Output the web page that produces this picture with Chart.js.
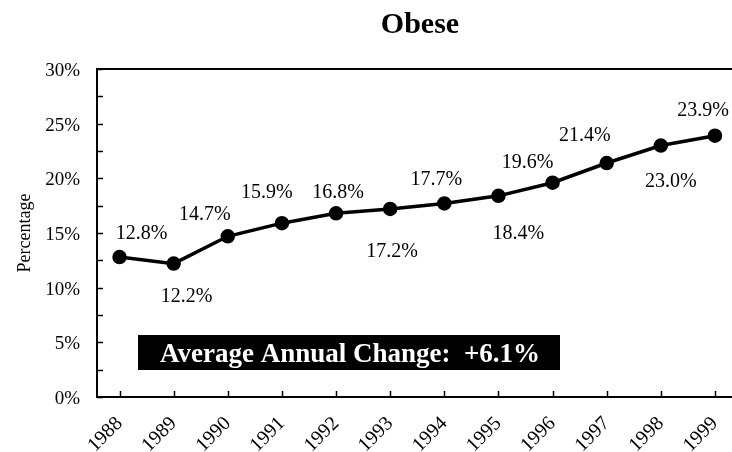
<!DOCTYPE html>
<html>
<head>
<meta charset="utf-8">
<script src="https://cdn.jsdelivr.net/npm/chart.js@4/dist/chart.umd.min.js"></script>
<style>
  html, body { margin: 0; padding: 0; background: #ffffff; }
  #c { display: block; }
</style>
</head>
<body>
<canvas id="c" width="732" height="452"></canvas>
<script>
// ---- data ----
const categories = ['1988','1989','1990','1991','1992','1993','1994','1995','1996','1997','1998','1999'];
const obese = [12.8, 12.2, 14.7, 15.9, 16.8, 17.2, 17.7, 18.4, 19.6, 21.4, 23.0, 23.9];
const yTickValues = [0, 5, 10, 15, 20, 25, 30];
const chartTitle = 'Obese';
const yAxisTitle = 'Percentage';
const noteText = 'Average Annual Change:  +6.1%';

// ---- layout / style (not data) ----
const years = categories.map(Number);
const labelOffsets = [[22,-25],[13,32],[-23,-23],[-15,-32],[2,-22],[2,41],[-8,-25],[20,37],[-25,-21],[-22,-29],[10,35],[-12,-26]];
const SERIF = '"Liberation Serif", "Times New Roman", serif';

const decor = {
  id: 'decor',
  afterDraw(chart) {
    const ctx = chart.ctx;
    const a = chart.chartArea;
    const xs = chart.scales.x, ys = chart.scales.y;
    ctx.save();
    // top frame line
    ctx.strokeStyle = '#000';
    ctx.lineWidth = 2;
    ctx.beginPath();
    ctx.moveTo(a.left - 1, a.top);
    ctx.lineTo(a.right + 1, a.top);
    ctx.stroke();
    // inner y ticks every 2.5
    ctx.lineWidth = 1.5;
    for (let v = 0; v <= 30; v += 2.5) {
      const y = Math.round(ys.getPixelForValue(v)) + 0.5;
      ctx.beginPath();
      ctx.moveTo(a.left, y);
      ctx.lineTo(a.left + 6, y);
      ctx.stroke();
    }
    // inner x ticks
    years.forEach(yr => {
      const x = Math.round(xs.getPixelForValue(yr)) + 0.5;
      ctx.beginPath();
      ctx.moveTo(x, a.bottom);
      ctx.lineTo(x, a.bottom - 6);
      ctx.stroke();
    });
    // title
    ctx.fillStyle = '#000';
    ctx.font = 'bold 30px ' + SERIF;
    ctx.textAlign = 'center';
    ctx.textBaseline = 'alphabetic';
    ctx.fillText(chartTitle, 420, 33);
    // y axis title
    ctx.save();
    ctx.translate(30, 233);
    ctx.rotate(-Math.PI / 2);
    ctx.font = '18px ' + SERIF;
    ctx.fillText(yAxisTitle, 0, 0);
    ctx.restore();
    // data labels
    ctx.font = '20px ' + SERIF;
    const meta = chart.getDatasetMeta(0);
    meta.data.forEach((pt, i) => {
      const o = labelOffsets[i];
      ctx.fillText(obese[i].toFixed(1) + '%', pt.x + o[0], pt.y + o[1] + 6.6);
    });
    // note box
    ctx.fillStyle = '#000';
    ctx.fillRect(138, 335, 422, 35);
    ctx.fillStyle = '#fff';
    ctx.font = 'bold 27px ' + SERIF;
    ctx.fillText(noteText, 350, 362);
    ctx.restore();
  }
};

new Chart(document.getElementById('c'), {
  type: 'line',
  data: {
    datasets: [{
      data: years.map((yr, i) => ({ x: yr, y: obese[i] })),
      borderColor: '#000',
      backgroundColor: '#000',
      borderWidth: 3.5,
      pointRadius: 5.5,
      pointBackgroundColor: '#000',
      pointBorderColor: '#000',
      tension: 0,
      fill: false,
      clip: false
    }]
  },
  options: {
    responsive: false,
    animation: false,
    devicePixelRatio: 1,
    layout: { autoPadding: false, padding: { top: 69, right: 1, left: 0, bottom: 0 } },
    plugins: { legend: { display: false }, title: { display: false }, tooltip: { enabled: false } },
    scales: {
      x: {
        type: 'linear',
        min: 1987.584,
        max: 1999.296,
        afterBuildTicks(scale) { scale.ticks = years.map(v => ({ value: v })); },
        afterFit(scale) { scale.height = 55; scale.paddingLeft = 0; scale.paddingRight = 0; },
        grid: { display: false, drawTicks: false },
        border: { display: true, color: '#000', width: 2 },
        ticks: {
          autoSkip: false,
          maxRotation: 45,
          minRotation: 45,
          padding: 15,
          color: '#000',
          font: { family: SERIF, size: 20 },
          callback: (v) => categories[years.indexOf(v)]
        }
      },
      y: {
        min: 0,
        max: 30,
        afterBuildTicks(scale) { scale.ticks = yTickValues.map(v => ({ value: v })); },
        afterFit(scale) { scale.width = 97; scale.paddingTop = 0; scale.paddingBottom = 0; },
        grid: { display: false, drawTicks: false },
        border: { display: true, color: '#000', width: 2 },
        ticks: {
          padding: 17,
          labelOffset: 2,
          color: '#000',
          font: { family: SERIF, size: 19 },
          callback: (v) => v + '%'
        }
      }
    }
  },
  plugins: [decor]
});
</script>
</body>
</html>
